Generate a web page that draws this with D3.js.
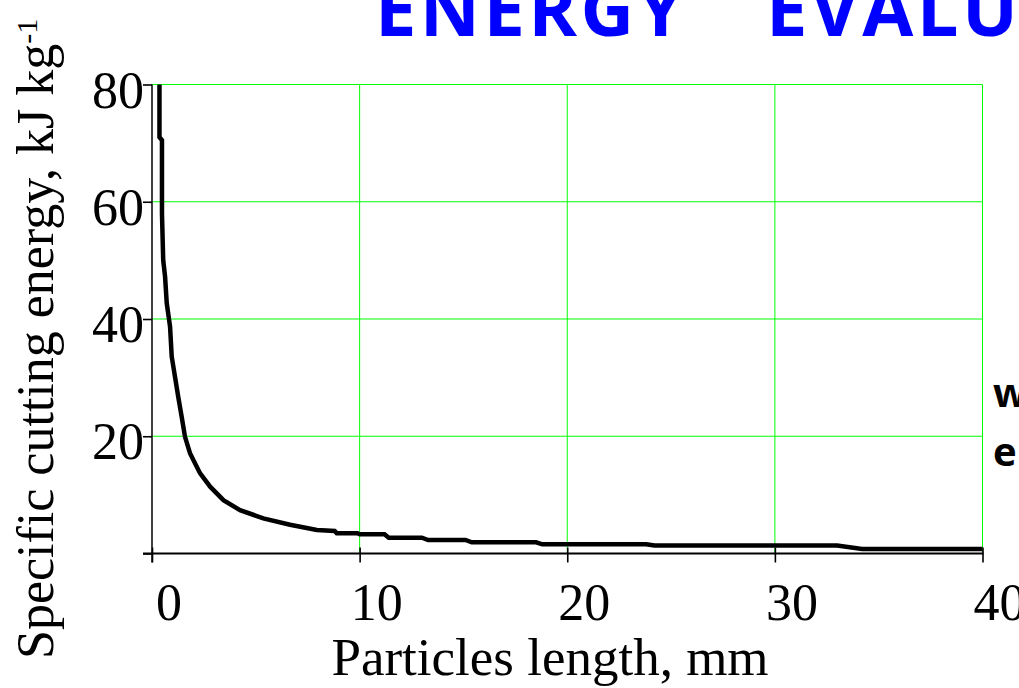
<!DOCTYPE html>
<html><head><meta charset="utf-8">
<script src="https://cdn.jsdelivr.net/npm/d3@7"></script>
<style>html,body{margin:0;padding:0;background:#fff;overflow:hidden}</style>
</head><body>
<svg id="chart" width="1019" height="688"></svg>
<script>
// ---- data ----
const lengthMm = [0.36, 0.36, 0.48, 0.48, 0.54, 0.63, 0.71, 0.87, 0.95, 1.11, 1.27, 1.43, 1.59, 1.83, 2.31, 2.80, 3.44, 4.24, 5.36, 6.65, 7.94, 8.8, 8.9, 9.9, 10.0, 11.2, 11.4, 13.0, 13.3, 15.1, 15.4, 18.5, 18.8, 23.8, 24.2, 33.0, 34.2, 40.0];
const energy   = [80, 71, 70.5, 58, 50, 47.2, 42.7, 38.7, 33.6, 30.1, 26.6, 23.3, 19.9, 17.1, 13.7, 11.4, 9.1, 7.4, 6.0, 4.9, 4.0, 3.84, 3.44, 3.44, 3.27, 3.27, 2.7, 2.7, 2.3, 2.3, 1.9, 1.9, 1.57, 1.57, 1.35, 1.35, 0.77, 0.77];
const xTicks = [0, 10, 20, 30, 40];
const xTickLabels = ["0", "10", "20", "30", "40"];
const yTicks = [0, 20, 40, 60, 80];
const yTickLabels = ["", "20", "40", "60", "80"];
const xGrid = [10, 20, 30, 40];
const yGrid = [20, 40, 60, 80];
const titleWords = ["ENERGY", "EVALU"];
const sideText = ["w", "e"];
const xLabel = "Particles length, mm";
const yLabel = "Specific cutting energy, kJ kg";
const yLabelSup = "-1";

const svg = d3.select("#chart");
const x = d3.scaleLinear().domain([0, 40]).range([152, 982.5]);
const y = d3.scaleLinear().domain([0, 80]).range([553.5, 84.5]);
const serif = "'Liberation Serif','Times New Roman',serif";

// grid
svg.append("g").selectAll("line").data(xGrid).join("line")
  .attr("x1", d => x(d)).attr("x2", d => x(d))
  .attr("y1", y(80)).attr("y2", y(0))
  .attr("stroke", "#00ff00").attr("stroke-width", 1);
svg.append("g").selectAll("line").data(yGrid).join("line")
  .attr("x1", x(0)).attr("x2", x(40))
  .attr("y1", d => y(d)).attr("y2", d => y(d))
  .attr("stroke", "#00ff00").attr("stroke-width", 1);

// x axis
const gx = svg.append("g").attr("transform", `translate(0,${y(0)})`)
  .call(d3.axisBottom(x).tickValues(xTicks).tickSize(9).tickFormat(""));
gx.select(".domain").remove();
gx.selectAll(".tick line").attr("y1", -6).attr("stroke", "#000").attr("stroke-width", 1.6);
svg.append("line").attr("x1", 143).attr("x2", x(40) + 1).attr("y1", y(0)).attr("y2", y(0))
  .attr("stroke", "#000").attr("stroke-width", 2);

// y axis
const gy = svg.append("g").attr("transform", `translate(${x(0)},0)`)
  .call(d3.axisLeft(y).tickValues(yTicks).tickSize(9).tickFormat(""));
gy.select(".domain").remove();
gy.selectAll(".tick line").attr("stroke", "#000").attr("stroke-width", 1.6);
svg.append("line").attr("x1", x(0)).attr("x2", x(0)).attr("y1", y(80)).attr("y2", y(0) + 9)
  .attr("stroke", "#000").attr("stroke-width", 1.5);

// tick labels
svg.append("g").selectAll("text").data(xTicks).join("text")
  .attr("x", d => x(d) + 17).attr("y", 620)
  .attr("text-anchor", "middle").attr("font-family", serif).attr("font-size", 52)
  .text((d, i) => xTickLabels[i]);
svg.append("g").selectAll("text").data(yTicks).join("text")
  .attr("x", 144).attr("y", d => y(d) + 23)
  .attr("text-anchor", "end").attr("font-family", serif).attr("font-size", 52)
  .text((d, i) => yTickLabels[i]);

// axis titles
svg.append("text").attr("x", 550).attr("y", 675).attr("text-anchor", "middle")
  .attr("font-family", serif).attr("font-size", 53).text(xLabel);
const yt = svg.append("text").attr("transform", "translate(53,659) rotate(-90)")
  .attr("font-family", serif).attr("font-size", 52);
yt.append("tspan").text(yLabel);
yt.append("tspan").attr("font-size", 30).attr("dy", -16).text(yLabelSup);

// curve
const line = d3.line().x(d => x(d[0])).y(d => y(d[1]));
svg.append("path").datum(lengthMm.map((l, i) => [l, energy[i]]))
  .attr("d", line).attr("fill", "none").attr("stroke", "#000")
  .attr("stroke-width", 4.5).attr("stroke-linejoin", "miter");

// title
const titleFont = "'Open Sans','DejaVu Sans',sans-serif";
const t1 = svg.append("text").attr("x", 375).attr("y", 36).attr("font-family", titleFont)
  .attr("font-weight", "bold").attr("font-size", 74).attr("fill", "#0000ff").text(titleWords[0]);
const natural = t1.node().getComputedTextLength();
const ls = (312 - natural) / 6;
t1.attr("letter-spacing", ls);
svg.append("text").attr("x", 766).attr("y", 36).attr("font-family", titleFont)
  .attr("font-weight", "bold").attr("font-size", 74).attr("fill", "#0000ff")
  .attr("letter-spacing", ls).text(titleWords[1]);

// side text
svg.append("g").selectAll("text").data(sideText).join("text")
  .attr("x", 993).attr("y", (d, i) => 407 + i * 59)
  .attr("font-family", titleFont).attr("font-weight", "bold").attr("font-size", 40)
  .attr("fill", "#000").text(d => d);
</script>
</body></html>
